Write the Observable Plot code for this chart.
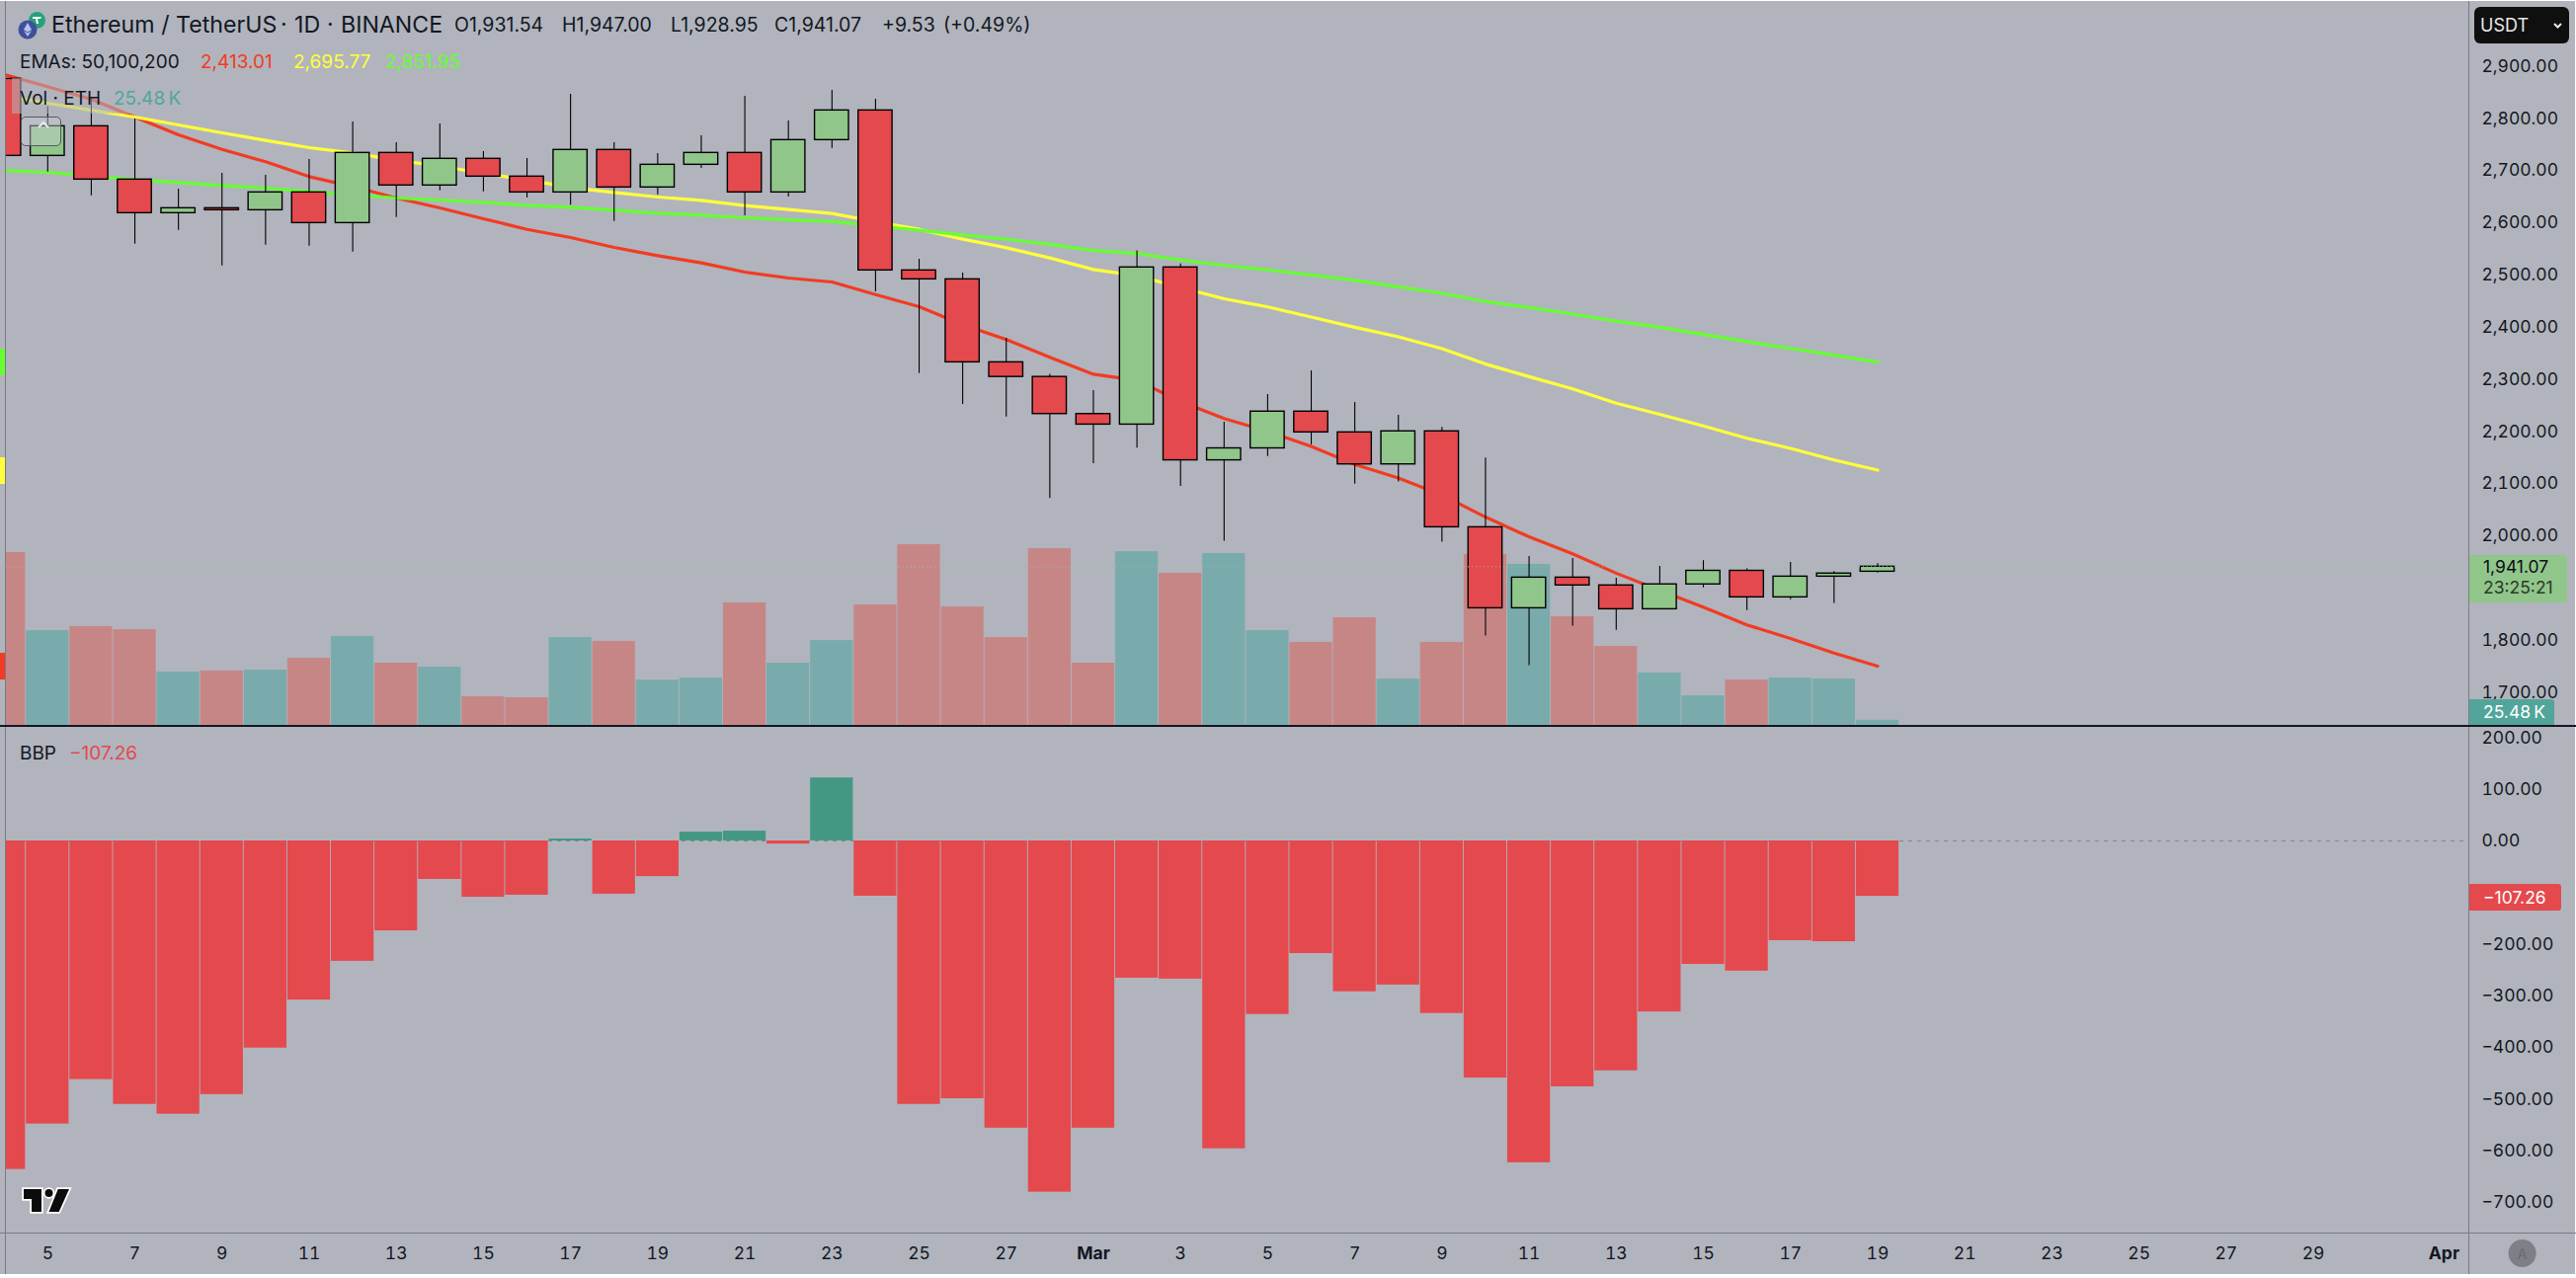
<!DOCTYPE html>
<html>
<head>
<meta charset="utf-8">
<script src="https://cdn.jsdelivr.net/npm/d3@7"></script>
<script src="https://cdn.jsdelivr.net/npm/@observablehq/plot@0.6"></script>
<style>
html,body{margin:0;padding:0;background:#fff;}
#stage{position:relative;width:2608px;height:1294px;overflow:hidden;background:#fff;font-family:Inter,sans-serif;color:#131722;}
#stage svg{position:absolute;left:0;}
.t{position:absolute;white-space:nowrap;line-height:1;transform:translateY(-50%);}
.b{position:absolute;}
</style>
</head>
<body>
<div id="stage"></div>
<script>
const dates = ["2025-02-04","2025-02-05","2025-02-06","2025-02-07","2025-02-08","2025-02-09","2025-02-10","2025-02-11","2025-02-12","2025-02-13","2025-02-14","2025-02-15","2025-02-16","2025-02-17","2025-02-18","2025-02-19","2025-02-20","2025-02-21","2025-02-22","2025-02-23","2025-02-24","2025-02-25","2025-02-26","2025-02-27","2025-02-28","2025-03-01","2025-03-02","2025-03-03","2025-03-04","2025-03-05","2025-03-06","2025-03-07","2025-03-08","2025-03-09","2025-03-10","2025-03-11","2025-03-12","2025-03-13","2025-03-14","2025-03-15","2025-03-16","2025-03-17","2025-03-18","2025-03-19"];
const opens = [2876,2728.4,2785.2,2683,2618.7,2628.1,2624.3,2658.4,2599.7,2734.1,2671.7,2722.8,2688.7,2658.4,2739.8,2667.9,2711.4,2734.1,2658.4,2758.7,2815.5,2508.9,2491.8,2332.8,2304.8,2233.7,2213.5,2514.6,2145,2167.9,2238.3,2198.5,2137.2,2200.5,2016.7,1861.5,1920.2,1905.2,1859.6,1907.2,1933.2,1882.4,1922.1,1931.54];
const highs = [2890,2823,2837,2799,2664.7,2695,2691.2,2721.5,2793.4,2753.7,2789.6,2736.6,2723.4,2846.4,2753.7,2732.8,2767,2842.6,2795.3,2854,2837,2530.3,2503.8,2379.1,2310,2278.7,2546.6,2521.2,2218.1,2270.9,2316.5,2255.9,2231.1,2208.3,2149.6,1960.6,1956.7,1918.9,1941.7,1952.8,1937.1,1949.5,1931.9,1947];
const lows = [2700,2697.5,2652,2559.3,2585.8,2517.7,2557.4,2555.5,2544.2,2610.4,2661.5,2659.7,2647.7,2633.8,2602.9,2654,2704.5,2613.6,2649.6,2743,2467.9,2311.4,2252,2227.8,2072,2138.5,2168.5,2094.9,1989.9,2152.2,2174.4,2099.4,2103.3,1988,1808.1,1751.4,1827,1819.2,1859.6,1900.6,1857,1877.8,1870.7,1928.95];
const closes = [2728.4,2785.2,2683,2618.7,2628.1,2624.3,2658.4,2599.7,2734.1,2671.7,2722.8,2688.7,2658.4,2739.8,2667.9,2711.4,2734.1,2658.4,2758.7,2815.5,2508.9,2491.8,2332.8,2304.8,2233.7,2213.5,2514.6,2145,2167.9,2238.3,2198.5,2137.2,2200.5,2016.7,1861.5,1920.2,1905.2,1859.6,1907.2,1933.2,1882.4,1922.1,1928,1941.07];
const volumes = [858,470,490,475,265,270,274,333,441,309,289,142,137,436,417,225,235,608,309,421,598,897,588,436,877,309,862,755,853,470,412,534,230,412,848,799,539,392,260,147,225,235,230,25.48];
const bbp = [-636,-548,-462,-510,-529,-491,-401,-308,-233,-174,-74.5,-109,-105,3.8,-103,-69,17,19,-6,122,-107,-510,-499,-556,-680,-556,-265.6,-267.5,-596,-336,-218,-292,-279,-334,-459,-623,-476,-445,-331,-239,-252,-193,-195,-107.26];
const ema50 = [2884.3,2861,2837,2803,2768.8,2741,2717.1,2688.7,2669.8,2647.7,2628.7,2608,2587.7,2572,2553,2537.3,2523.4,2505.7,2494.4,2486.8,2462.8,2439.4,2404.8,2376.5,2342.6,2310,2298.2,2257.8,2225.2,2200.5,2171.8,2137.2,2111.2,2078.6,2036.2,1998.4,1965.8,1928.7,1896,1863.5,1829.6,1803.5,1775.5,1750.7];
const ema100 = [2843.3,2829.4,2816,2802.9,2787.7,2772.6,2758.1,2744.2,2734.1,2720.2,2708.9,2695,2682.4,2667.9,2658.4,2649.6,2643.3,2633.2,2625.6,2618,2602.3,2587.7,2568.8,2552.4,2532.9,2510.7,2499,2476.2,2454.7,2439,2419.5,2399.9,2381.7,2358.9,2329.5,2305.4,2282,2254.6,2233.1,2210.9,2187.4,2167.9,2145.7,2126.2];
const ema200 = [2700.7,2696.9,2690,2683,2677.3,2671.7,2666.6,2660.3,2654,2647.7,2643.9,2639.5,2633.8,2630,2624.3,2618.7,2614.9,2609.8,2606,2602.9,2594,2585.8,2577,2568.7,2559,2547.2,2541.4,2529,2518.5,2510,2500.3,2489.9,2477.5,2465.1,2449.5,2437.7,2425.3,2411.7,2399.9,2386.2,2372.5,2359.5,2346.5,2333.4];
const priceTicks = [2900,2800,2700,2600,2500,2400,2300,2200,2100,2000,1800,1700];
const bbpTicks = [200,100,0,-200,-300,-400,-500,-600,-700];
const dayTicks = ["2025-02-05","2025-02-07","2025-02-09","2025-02-11","2025-02-13","2025-02-15","2025-02-17","2025-02-19","2025-02-21","2025-02-23","2025-02-25","2025-02-27","2025-03-03","2025-03-05","2025-03-07","2025-03-09","2025-03-11","2025-03-13","2025-03-15","2025-03-17","2025-03-19","2025-03-21","2025-03-23","2025-03-25","2025-03-27","2025-03-29"];
const monthTicks = ["2025-03-01","2025-04-01"];
const monthLabels = ["Mar","Apr"];

const UP="#91c68b", DOWN="#e4494d", VUP="#7aabac", VDOWN="#c78686", BUP="#439884";
const C_RED="#f23b22", C_YEL="#ffff3b", C_GRN="#66ff33", C_TEAL="#52a59b", INK="#131722", AXIS="#787b86";
const DAY=864e5;
const rows = dates.map((d,i)=>({date:new Date(d+"T00:00Z"),o:opens[i],h:highs[i],l:lows[i],c:closes[i],v:volumes[i],b:bbp[i],e1:ema50[i],e2:ema100[i],e3:ema200[i]}));
const xScale = {type:"utc",domain:[new Date("2025-02-04T00:00Z"),new Date("2025-04-01T00:00Z")],range:[3.7,2473.9],axis:null};
const fmt2 = d=>d3.format(",.2f")(d).replace("-","\u2212");
const font = {fontFamily:"Inter, sans-serif",fontSize:"17.5px",background:"transparent",overflow:"visible"};
const common = {width:2608,marginLeft:6,marginRight:109,marginTop:0,style:font};

const stage = document.getElementById("stage");
function box(x,y,w,h,css){const e=document.createElement("div");e.className="b";e.style.cssText=`left:${x}px;top:${y}px;width:${w}px;height:${h}px;${css||""}`;stage.appendChild(e);return e;}
function txt(x,y,s,size,color,extra){const e=document.createElement("div");e.className="t";e.style.cssText=`left:${x}px;top:${y}px;font-size:${size}px;color:${color};${extra||""}`;e.textContent=s;stage.appendChild(e);return e;}

// pane background
box(0,1,2607,1289,"background:#b1b4bd");

// volume layer
const volPlot = Plot.plot({...common,height:735,marginBottom:0,x:xScale,
  y:{domain:[0,1000],range:[734,530],axis:null},
  marks:[Plot.rect(rows,{x1:d=>+d.date-0.49*DAY,x2:d=>+d.date+0.49*DAY,y1:0,y2:"v",fill:d=>d.c>=d.o?VUP:VDOWN,clip:true})]});
volPlot.style.top="0px"; stage.appendChild(volPlot);

// price layer
const pricePlot = Plot.plot({...common,height:735,marginBottom:0,x:xScale,
  y:{domain:[2900,1700],range:[66.7,700.7]},
  marks:[
    Plot.line(rows,{x:"date",y:"e1",stroke:C_RED,strokeWidth:3.2,clip:true}),
    Plot.line(rows,{x:"date",y:"e2",stroke:C_YEL,strokeWidth:3.2,clip:true}),
    Plot.line(rows,{x:"date",y:"e3",stroke:C_GRN,strokeWidth:3.2,clip:true}),
    Plot.ruleX(rows,{x:"date",y1:"l",y2:"h",stroke:"#000",strokeWidth:1.1,clip:true}),
    Plot.rect(rows,{x1:d=>+d.date-0.39*DAY,x2:d=>+d.date+0.39*DAY,y1:"o",y2:"c",fill:d=>d.c>=d.o?UP:DOWN,stroke:"#000",strokeWidth:1.4,clip:true}),
    Plot.ruleY([closes[closes.length-1]],{stroke:UP,strokeDasharray:"1,3",strokeWidth:1}),
    Plot.axisY({ticks:priceTicks,anchor:"right",tickSize:0,tickPadding:13,tickFormat:fmt2,fill:INK,label:null})
  ]});
pricePlot.style.top="0px"; stage.appendChild(pricePlot);

// lower pane
const lowerPlot = Plot.plot({...common,height:559,marginBottom:46,x:xScale,
  y:{domain:[200,-700],range:[11.4,482.1]},
  marks:[
    Plot.ruleY([0],{stroke:"#84868e",strokeDasharray:"4,5",strokeWidth:1.2}),
    Plot.rect(rows,{x1:d=>+d.date-0.49*DAY,x2:d=>+d.date+0.49*DAY,y1:0,y2:"b",fill:d=>d.b>=0?BUP:DOWN,clip:true}),
    Plot.axisY({ticks:bbpTicks,anchor:"right",tickSize:0,tickPadding:13,tickFormat:fmt2,fill:INK,label:null}),
    Plot.axisX({ticks:dayTicks.map(d=>new Date(d+"T00:00Z")),anchor:"bottom",tickSize:0,tickPadding:14,tickFormat:d=>String(d.getUTCDate()),fill:INK,label:null}),
    Plot.axisX({ticks:monthTicks.map(d=>new Date(d+"T00:00Z")),anchor:"bottom",tickSize:0,tickPadding:14,tickFormat:(d,i)=>monthLabels[d.getUTCMonth()-2],fill:INK,fontWeight:700,label:null})
  ]});
lowerPlot.style.top="735px"; stage.appendChild(lowerPlot);

// legend veil, pane lines
box(12,79,178,36,"background:rgba(177,180,189,.55)");
box(5,1,1,1289,`background:${AXIS}`);
box(2499,1,1,1289,`background:${AXIS}`);
box(0,1247.5,2608,1.5,`background:${AXIS}`);
box(0,734,2608,2.4,`background:${INK}`);
box(0,353,5,27,`background:${C_GRN}`);
box(0,463,5,27,`background:${C_YEL}`);
box(0,661,5,27,`background:${C_RED}`);

// collapse button
box(20.7,118,41,30,"box-sizing:border-box;border:1px solid #55585f;border-radius:5px;background:rgba(200,203,210,.45)");

// legends
txt(52,26,"Ethereum / TetherUS",23.2,INK);
txt(284,26,"\u00b7",23.2,INK);
txt(298,26,"1D",23.2,INK);
txt(331,26,"\u00b7",23.2,INK);
txt(345,26,"BINANCE",23.2,INK);
txt(460,26,"O1,931.54",19.5,INK);
txt(569,26,"H1,947.00",19.5,INK);
txt(679,26,"L1,928.95",19.5,INK);
txt(784,26,"C1,941.07",19.5,INK);
txt(893,26,"+9.53",19.5,INK);
txt(955,26,"(+0.49%)",19.5,INK);
txt(20,62,"EMAs: 50,100,200",19,INK);
txt(203,62,"2,413.01",19,C_RED);
txt(297,62,"2,695.77",19,C_YEL);
txt(390,62,"2,851.95",19,C_GRN);
txt(20,98.5,"Vol \u00b7 ETH",19,INK);
txt(115,98.5,"25.48\u2009K",19,C_TEAL);
txt(20,762,"BBP",19,INK);
txt(70,762,"\u2212107.26",19,DOWN);

// right scale pills
box(2505,7,96,37,"background:#0f0f0f;border-radius:6px");
txt(2511,25.5,"USDT",18,"#e8e8e8");
box(2499.5,562,99.5,48,`background:${UP};border-radius:0 3px 3px 0`);
txt(2514,574,"1,941.07",17.5,"#0c0f14");
txt(2514,595,"23:25:21",17.5,"#2a3a2a");
box(2499.5,708,86.5,26,`background:${C_TEAL};border-radius:0 3px 0 0`);
txt(2514,721,"25.48\u2009K",17.5,"#fff");
box(2499.5,895,93.5,27,`background:${DOWN};border-radius:0 3px 3px 0`);
txt(2514,908.5,"\u2212107.26",17.5,"#fff");

// icons
const svgNS="http://www.w3.org/2000/svg";
const deco=document.createElementNS(svgNS,"svg");
deco.setAttribute("width","2608");deco.setAttribute("height","1294");deco.style.top="0px";deco.style.pointerEvents="none";
deco.innerHTML=`
<circle cx="37.5" cy="20.5" r="8.5" fill="#26a17b"/><path d="M33 17h9l-1 2h-3l1 5h-2l-1-5h-3z" fill="#fff"/>
<circle cx="28" cy="30" r="9.5" fill="#3f4f9c"/><path d="M28 23l4 7-4 2.5-4-2.5zM28 33.5l4-2.4-4 6-4-6z" fill="#b6c2ee"/>
<path d="M39 129l5-5 5 5" fill="none" stroke="#e8eaee" stroke-width="2"/>
<path d="M2586 24l3.5 3.5 3.5-3.5" fill="none" stroke="#e8e8e8" stroke-width="2"/>
<g fill="#0b0b0b" stroke="#fff" stroke-width="3.5" paint-order="stroke" stroke-linejoin="miter">
<path d="M24 1204H42V1227H32V1214H24z"/><circle cx="49.5" cy="1208" r="4"/><path d="M58.7 1204H70L59.7 1227H49.5z"/></g>
<circle cx="2553.6" cy="1269" r="14" fill="#7e8088"/>
<text x="2553.6" y="1274.5" text-anchor="middle" font-family="Inter,sans-serif" font-size="14" fill="#686a72">A</text>`;
stage.appendChild(deco);
</script>
</body>
</html>
